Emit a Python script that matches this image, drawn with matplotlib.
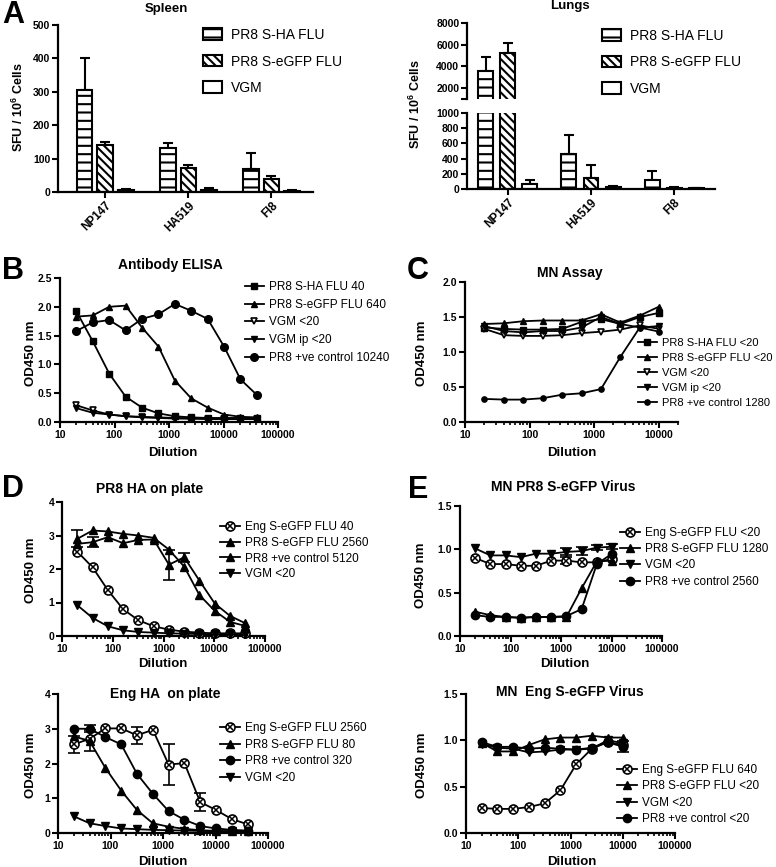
import numpy as np
import matplotlib
matplotlib.use("Agg")
import matplotlib.pyplot as plt
from matplotlib.ticker import LogLocator, FuncFormatter, NullFormatter, FixedLocator
from matplotlib.legend_handler import HandlerTuple

plt.rcParams["font.family"] = ["Liberation Sans", "DejaVu Sans"]
plt.rcParams["font.weight"] = "bold"
plt.rcParams["mathtext.fontset"] = "custom"
plt.rcParams["mathtext.rm"] = "Liberation Sans:bold"
plt.rcParams["mathtext.bf"] = "Liberation Sans:bold"
plt.rcParams["hatch.linewidth"] = 1.5

W, H = 776, 867

#### Panel A data (SFU / 10^6 cells, mean and upper SEM)
peptides = ["NP147", "HA519", "FI8"]
bar_labels = ["PR8 S-HA FLU", "PR8 S-eGFP FLU", "VGM"]
bar_hatches = ["--", "\\\\\\\\", ""]

spleen_ha = [305, 132, 68]
spleen_ha_err = [95, 15, 48]
spleen_gfp = [140, 72, 38]
spleen_gfp_err = [10, 10, 10]
spleen_vgm = [7, 5, 3]
spleen_vgm_err = [3, 7, 2]

lung_ha = [3550, 455, 115]
lung_ha_err = [1350, 250, 120]
lung_gfp = [5250, 150, 15]
lung_gfp_err = [900, 165, 8]
lung_vgm = [60, 30, 10]
lung_vgm_err = [55, 8, 3]

#### Dilutions
dil12 = [20, 40, 80, 160, 320, 640, 1280, 2560, 5120, 10240, 20480, 40960]
dil10 = [20, 40, 80, 160, 320, 640, 1280, 2560, 5120, 10240]

#### Panel B: Antibody ELISA
b_labels = ["PR8 S-HA FLU 40", "PR8 S-eGFP FLU 640", "VGM <20", "VGM ip <20", "PR8 +ve control 10240"]
b_ha = [1.92, 1.40, 0.84, 0.44, 0.25, 0.15, 0.10, 0.08, 0.07, 0.07, 0.07, 0.07]
b_gfp = [1.83, 1.85, 2.00, 2.02, 1.64, 1.31, 0.72, 0.41, 0.25, 0.13, 0.09, 0.08]
b_vgm = [0.29, 0.20, 0.13, 0.10, 0.08, 0.07, 0.06, 0.06, 0.05, 0.05, 0.05, 0.05]
b_vgm_ip = [0.24, 0.16, 0.13, 0.10, 0.09, 0.08, 0.07, 0.06, 0.06, 0.06, 0.06, 0.06]
b_pos = [1.58, 1.73, 1.77, 1.59, 1.79, 1.87, 2.05, 1.93, 1.79, 1.31, 0.74, 0.47]

#### Panel C: MN Assay
c_labels = ["PR8 S-HA FLU <20", "PR8 S-eGFP FLU <20", "VGM <20", "VGM ip <20", "PR8 +ve control 1280"]
c_ha = [1.35, 1.33, 1.32, 1.32, 1.33, 1.43, 1.47, 1.40, 1.50, 1.56]
c_gfp = [1.40, 1.41, 1.44, 1.45, 1.45, 1.45, 1.54, 1.42, 1.52, 1.65]
c_vgm = [1.33, 1.24, 1.23, 1.23, 1.24, 1.27, 1.29, 1.32, 1.38, 1.33]
c_vgm_ip = [1.37, 1.30, 1.28, 1.30, 1.30, 1.35, 1.50, 1.40, 1.35, 1.37]
c_pos = [0.33, 0.32, 0.32, 0.34, 0.39, 0.41, 0.47, 0.93, 1.35, 1.29]

#### Panel D top: PR8 HA on plate
d1_labels = ["Eng S-eGFP FLU 40", "PR8 S-eGFP FLU 2560", "PR8 +ve control 5120", "VGM <20"]
d1_eng = [2.52, 2.05, 1.37, 0.80, 0.47, 0.29, 0.19, 0.13, 0.10, 0.08, 0.08, 0.08]
d1_gfp = [2.75, 2.80, 2.95, 2.77, 2.87, 2.88, 2.13, 2.35, 1.65, 0.97, 0.60, 0.38]
d1_gfp_err = [0, 0.15, 0, 0, 0, 0, 0.45, 0.13, 0, 0, 0, 0]
d1_pos = [2.90, 3.15, 3.12, 3.05, 3.00, 2.93, 2.58, 2.07, 1.22, 0.75, 0.42, 0.30]
d1_pos_err = [0.25, 0, 0, 0, 0, 0, 0, 0, 0, 0, 0, 0]
d1_vgm = [0.92, 0.54, 0.29, 0.17, 0.12, 0.10, 0.08, 0.07, 0.06, 0.05, 0.05, 0.05]

#### Panel D bottom: Eng HA on plate
d2_labels = ["Eng S-eGFP FLU 2560", "PR8 S-eGFP FLU 80", "PR8 +ve control 320", "VGM <20"]
d2_eng = [2.55, 2.71, 3.01, 3.01, 2.81, 2.97, 1.97, 2.01, 0.89, 0.66, 0.40, 0.25]
d2_eng_err = [0.25, 0, 0, 0, 0.25, 0, 0.58, 0, 0.27, 0, 0, 0]
d2_gfp = [2.78, 2.65, 1.87, 1.22, 0.66, 0.28, 0.18, 0.12, 0.08, 0.06, 0.05, 0.05]
d2_gfp_err = [0, 0.30, 0, 0, 0, 0, 0, 0, 0, 0, 0, 0]
d2_pos = [3.00, 3.00, 2.76, 2.55, 1.70, 1.13, 0.63, 0.38, 0.20, 0.13, 0.09, 0.07]
d2_pos_err = [0, 0.10, 0, 0, 0, 0, 0, 0, 0, 0, 0, 0]
d2_vgm = [0.48, 0.28, 0.20, 0.13, 0.11, 0.09, 0.08, 0.07, 0.06, 0.05, 0.05, 0.05]

#### Panel E top: MN PR8 S-eGFP Virus
e1_labels = ["Eng S-eGFP FLU <20", "PR8 S-eGFP FLU 1280", "VGM <20", "PR8 +ve control 2560"]
e1_eng = [0.90, 0.83, 0.83, 0.81, 0.81, 0.87, 0.87, 0.85, 0.85, 0.89]
e1_eng_err = [0, 0, 0, 0, 0, 0, 0.04, 0, 0, 0]
e1_gfp = [0.28, 0.24, 0.22, 0.21, 0.22, 0.22, 0.22, 0.55, 0.86, 0.87]
e1_vgm = [1.01, 0.93, 0.93, 0.91, 0.95, 0.95, 0.97, 0.98, 1.02, 1.03]
e1_vgm_err = [0, 0, 0, 0, 0, 0, 0.04, 0.05, 0.03, 0.03]
e1_pos = [0.24, 0.22, 0.22, 0.21, 0.22, 0.22, 0.23, 0.31, 0.83, 0.95]

#### Panel E bottom: MN Eng S-eGFP Virus
e2_labels = ["Eng S-eGFP FLU 640", "PR8 S-eGFP FLU <20", "VGM <20", "PR8 +ve control <20"]
e2_eng = [0.27, 0.26, 0.26, 0.28, 0.32, 0.46, 0.74, 0.91, 0.98, 0.95]
e2_gfp = [0.97, 0.88, 0.88, 0.95, 1.01, 1.03, 1.03, 1.05, 1.03, 1.03]
e2_vgm = [0.96, 0.92, 0.91, 0.87, 0.88, 0.90, 0.90, 0.91, 1.00, 0.97]
e2_pos = [0.98, 0.93, 0.93, 0.91, 0.92, 0.91, 0.90, 0.92, 0.98, 0.93]
e2_pos_err = [0, 0, 0, 0, 0, 0, 0, 0, 0, 0.06]

fig = plt.figure(figsize=(W / 100, H / 100), dpi=100)


def px_axes(l, t, r, b):
    return fig.add_axes([l / W, 1 - b / H, (r - l) / W, (b - t) / H])


def ftext(x, y, s, **kw):
    kw.setdefault("ha", "center")
    kw.setdefault("va", "center")
    fig.text(x / W, 1 - y / H, s, **kw)


def style_axes(ax):
    for s in ["top", "right"]:
        ax.spines[s].set_visible(False)
    for s in ["left", "bottom"]:
        ax.spines[s].set_linewidth(1.6)
    ax.tick_params(which="major", direction="out", length=4, width=1.5, labelsize=7.5, pad=1.5)
    ax.tick_params(which="minor", direction="out", length=2.5, width=1.2)


def log_axes(ax, xmax, ymax, ystep, fmt):
    style_axes(ax)
    ax.set_xscale("log")
    ax.set_xlim(10, xmax)
    ax.set_ylim(0, ymax)
    ax.xaxis.set_major_locator(LogLocator(base=10))
    ax.xaxis.set_minor_locator(LogLocator(base=10, subs=np.arange(2, 10)))
    ax.xaxis.set_major_formatter(FuncFormatter(lambda v, p: f"{int(round(v))}"))
    ax.xaxis.set_minor_formatter(NullFormatter())
    ax.yaxis.set_major_locator(FixedLocator(np.arange(0, ymax + 1e-9, ystep)))
    ax.yaxis.set_major_formatter(FuncFormatter(lambda v, p: fmt.format(v)))


def series(ax, x, y, kind, ms=5, err=None):
    base = dict(color="k", lw=1.3, ms=ms, mec="k", clip_on=False, zorder=3)
    if err is not None:
        e = np.array(err)
        m = e > 0
        ax.errorbar(np.array(x)[m], np.array(y)[m], yerr=e[m], fmt="none", ecolor="k",
                    elinewidth=1.2, capsize=4, capthick=1.2, clip_on=False, zorder=2)
    if kind == "s":
        return ax.plot(x, y, marker="s", mfc="k", **base)[0]
    if kind == "^":
        return ax.plot(x, y, marker="^", mfc="k", **base)[0]
    if kind == "v":
        return ax.plot(x, y, marker="v", mfc="k", **base)[0]
    if kind == "vopen":
        return ax.plot(x, y, marker="v", mfc="white", mew=1.2, **base)[0]
    if kind == "o":
        return ax.plot(x, y, marker="o", mfc="k", **base)[0]
    # circle with a cross
    l1 = ax.plot(x, y, marker="o", mfc="white", mew=1.2, **base)[0]
    l2 = ax.plot(x, y, marker="x", ls="none", color="k", ms=ms * 0.62, mew=1.1,
                 clip_on=False, zorder=4)[0]
    return (l1, l2)


def line_legend(ax, handles, labels, x_px, y_px, spacing, hl=1.6, size=8.5):
    ax.legend(handles, labels, loc="upper left",
              bbox_to_anchor=(x_px / W, 1 - y_px / H), bbox_transform=fig.transFigure,
              frameon=False, prop={"weight": "normal", "size": size},
              handlelength=hl, handletextpad=0.45, labelspacing=spacing,
              borderpad=0, borderaxespad=0, handler_map={tuple: HandlerTuple(ndivide=1)})


def draw_bars(ax, vals, errs, offsets, width):
    x = np.arange(len(peptides))
    conts = []
    for v, e, off, hatch, lab in zip(vals, errs, offsets, bar_hatches, bar_labels):
        ax.errorbar(x + off, v, yerr=[np.zeros(len(v)), e], fmt="none", ecolor="k",
                    elinewidth=1.5, capsize=3.5, capthick=1.5, zorder=1)
        c = ax.bar(x + off, v, width, color="white", edgecolor="k", linewidth=1.5,
                   hatch=hatch, label=lab, zorder=2)
        conts.append(c)
    return conts


def bar_legend(ax, conts, x_px, y_px):
    ax.legend(conts, bar_labels, loc="upper left",
              bbox_to_anchor=(x_px / W, 1 - y_px / H), bbox_transform=fig.transFigure,
              frameon=False, prop={"weight": "normal", "size": 10},
              handlelength=1.4, handleheight=0.9, handletextpad=0.6, labelspacing=0.9,
              borderpad=0, borderaxespad=0)


sfu_label = r"SFU / 10$^\mathbf{6}$ Cells"

#### A: Spleen
ax = px_axes(58, 25, 313, 192)
style_axes(ax)
conts = draw_bars(ax, [spleen_ha, spleen_gfp, spleen_vgm],
                  [spleen_ha_err, spleen_gfp_err, spleen_vgm_err], [-0.25, 0, 0.25], 0.19)
ax.set_xlim(-0.57, 2.5)
ax.set_ylim(0, 500)
ax.set_yticks([0, 100, 200, 300, 400, 500])
ax.set_xticks(range(3))
ax.set_xticklabels(peptides, rotation=45, ha="right", rotation_mode="anchor", fontsize=8.5)
bar_legend(ax, conts, 203, 28)
ftext(166, 9, "Spleen", fontsize=9.5)
ftext(18, 107, sfu_label, fontsize=9, rotation=90)

#### A: Lungs (broken axis)
ax_top = px_axes(467, 23, 715, 99)
ax_low = px_axes(467, 113, 715, 189)
lung_vals = [lung_ha, lung_gfp, lung_vgm]
lung_errs = [lung_ha_err, lung_gfp_err, lung_vgm_err]
for a in [ax_top, ax_low]:
    style_axes(a)
    conts = draw_bars(a, lung_vals, lung_errs, [-0.265, 0, 0.265], 0.18)
    a.set_xlim(-0.49, 2.49)
ax_top.set_ylim(1000, 8000)
ax_top.set_yticks([1000, 2000, 4000, 6000, 8000])
ax_top.set_yticklabels(["", "2000", "4000", "6000", "8000"])
ax_top.spines["bottom"].set_visible(False)
ax_top.set_xticks([])
ax_low.set_ylim(0, 1000)
ax_low.set_yticks([0, 200, 400, 600, 800, 1000])
ax_low.set_xticks(range(3))
ax_low.set_xticklabels(peptides, rotation=45, ha="right", rotation_mode="anchor", fontsize=8.5)
bar_legend(ax_low, conts, 602, 29)
ftext(570, 6, "Lungs", fontsize=9.5)
ftext(415, 104, sfu_label, fontsize=9, rotation=90)

#### B: Antibody ELISA
ax = px_axes(60, 278, 278, 422)
log_axes(ax, 100000, 2.5, 0.5, "{:.1f}")
hb = [series(ax, dil12, b_ha, "s"), series(ax, dil12, b_gfp, "^"),
      series(ax, dil12, b_vgm, "vopen"), series(ax, dil12, b_vgm_ip, "v"),
      series(ax, dil12, b_pos, "o", ms=5.5)]
line_legend(ax, hb, b_labels, 245, 281, 0.48)
ftext(170, 265, "Antibody ELISA", fontsize=10)
ftext(31, 353, "OD450 nm", fontsize=9.5, rotation=90)
ftext(173, 453, "Dilution", fontsize=9.5)

#### C: MN Assay
ax = px_axes(465, 282, 678, 422)
log_axes(ax, 20000, 2.0, 0.5, "{:.1f}")
hc = [series(ax, dil10, c_ha, "s", ms=4.5), series(ax, dil10, c_gfp, "^", ms=4.5),
      series(ax, dil10, c_vgm, "vopen", ms=4.5), series(ax, dil10, c_vgm_ip, "v", ms=4.5),
      series(ax, dil10, c_pos, "o", ms=3.8)]
line_legend(ax, hc, c_labels, 638, 338, 0.45, hl=1.7, size=8)
ftext(570, 273, "MN Assay", fontsize=10)
ftext(422, 353, "OD450 nm", fontsize=9.5, rotation=90)
ftext(572, 453, "Dilution", fontsize=9.5)

#### D top: PR8 HA on plate
ax = px_axes(62, 502, 265, 636)
log_axes(ax, 100000, 4, 1, "{:.0f}")
hd1 = [series(ax, dil12, d1_eng, "ox", ms=6.5),
       series(ax, dil12, d1_gfp, "^", ms=5.5, err=d1_gfp_err),
       series(ax, dil12, d1_pos, "^", ms=5.5, err=d1_pos_err),
       series(ax, dil12, d1_vgm, "v", ms=5.5)]
line_legend(ax, hd1, d1_labels, 220, 521, 0.32, hl=1.7)
ftext(150, 489, "PR8 HA on plate", fontsize=10)
ftext(31, 570, "OD450 nm", fontsize=9.5, rotation=90)
ftext(163, 664, "Dilution", fontsize=9.5)

#### E top: MN PR8 S-eGFP Virus
ax = px_axes(460, 506, 662, 636)
log_axes(ax, 100000, 1.5, 0.5, "{:.1f}")
he1 = [series(ax, dil10, e1_eng, "ox", ms=6.5, err=e1_eng_err),
       series(ax, dil10, e1_gfp, "^", ms=5.5),
       series(ax, dil10, e1_vgm, "v", ms=5.5, err=e1_vgm_err),
       series(ax, dil10, e1_pos, "o", ms=6)]
line_legend(ax, he1, e1_labels, 620, 527, 0.36, hl=1.7)
ftext(563, 487, "MN PR8 S-eGFP Virus", fontsize=10)
ftext(421, 575, "OD450 nm", fontsize=9.5, rotation=90)
ftext(565, 664, "Dilution", fontsize=9.5)

#### D bottom: Eng HA on plate
ax = px_axes(58, 694, 268, 833)
log_axes(ax, 100000, 4, 1, "{:.0f}")
hd2 = [series(ax, dil12, d2_eng, "ox", ms=6.5, err=d2_eng_err),
       series(ax, dil12, d2_gfp, "^", ms=5.5, err=d2_gfp_err),
       series(ax, dil12, d2_pos, "o", ms=6, err=d2_pos_err),
       series(ax, dil12, d2_vgm, "v", ms=5.5)]
line_legend(ax, hd2, d2_labels, 220, 722, 0.4, hl=1.7)
ftext(165, 694, "Eng HA  on plate", fontsize=10)
ftext(31, 765, "OD450 nm", fontsize=9.5, rotation=90)
ftext(163, 862, "Dilution", fontsize=9.5)

#### E bottom: MN Eng S-eGFP Virus
ax = px_axes(466, 694, 675, 833)
log_axes(ax, 100000, 1.5, 0.5, "{:.1f}")
he2 = [series(ax, dil10, e2_eng, "ox", ms=6.5),
       series(ax, dil10, e2_gfp, "^", ms=5.5),
       series(ax, dil10, e2_vgm, "v", ms=5.5),
       series(ax, dil10, e2_pos, "o", ms=6, err=e2_pos_err)]
line_legend(ax, he2, e2_labels, 617, 764, 0.37, hl=1.7)
ftext(570, 692, "MN  Eng S-eGFP Virus", fontsize=10)
ftext(422, 765, "OD450 nm", fontsize=9.5, rotation=90)
ftext(572, 862, "Dilution", fontsize=9.5)

#### Panel letters
for letter, x, y in [("A", 13, 15), ("B", 13, 271), ("C", 418, 271), ("D", 13, 489), ("E", 418, 490)]:
    ftext(x, y, letter, fontsize=22)

fig.savefig("out.png", dpi=100)
